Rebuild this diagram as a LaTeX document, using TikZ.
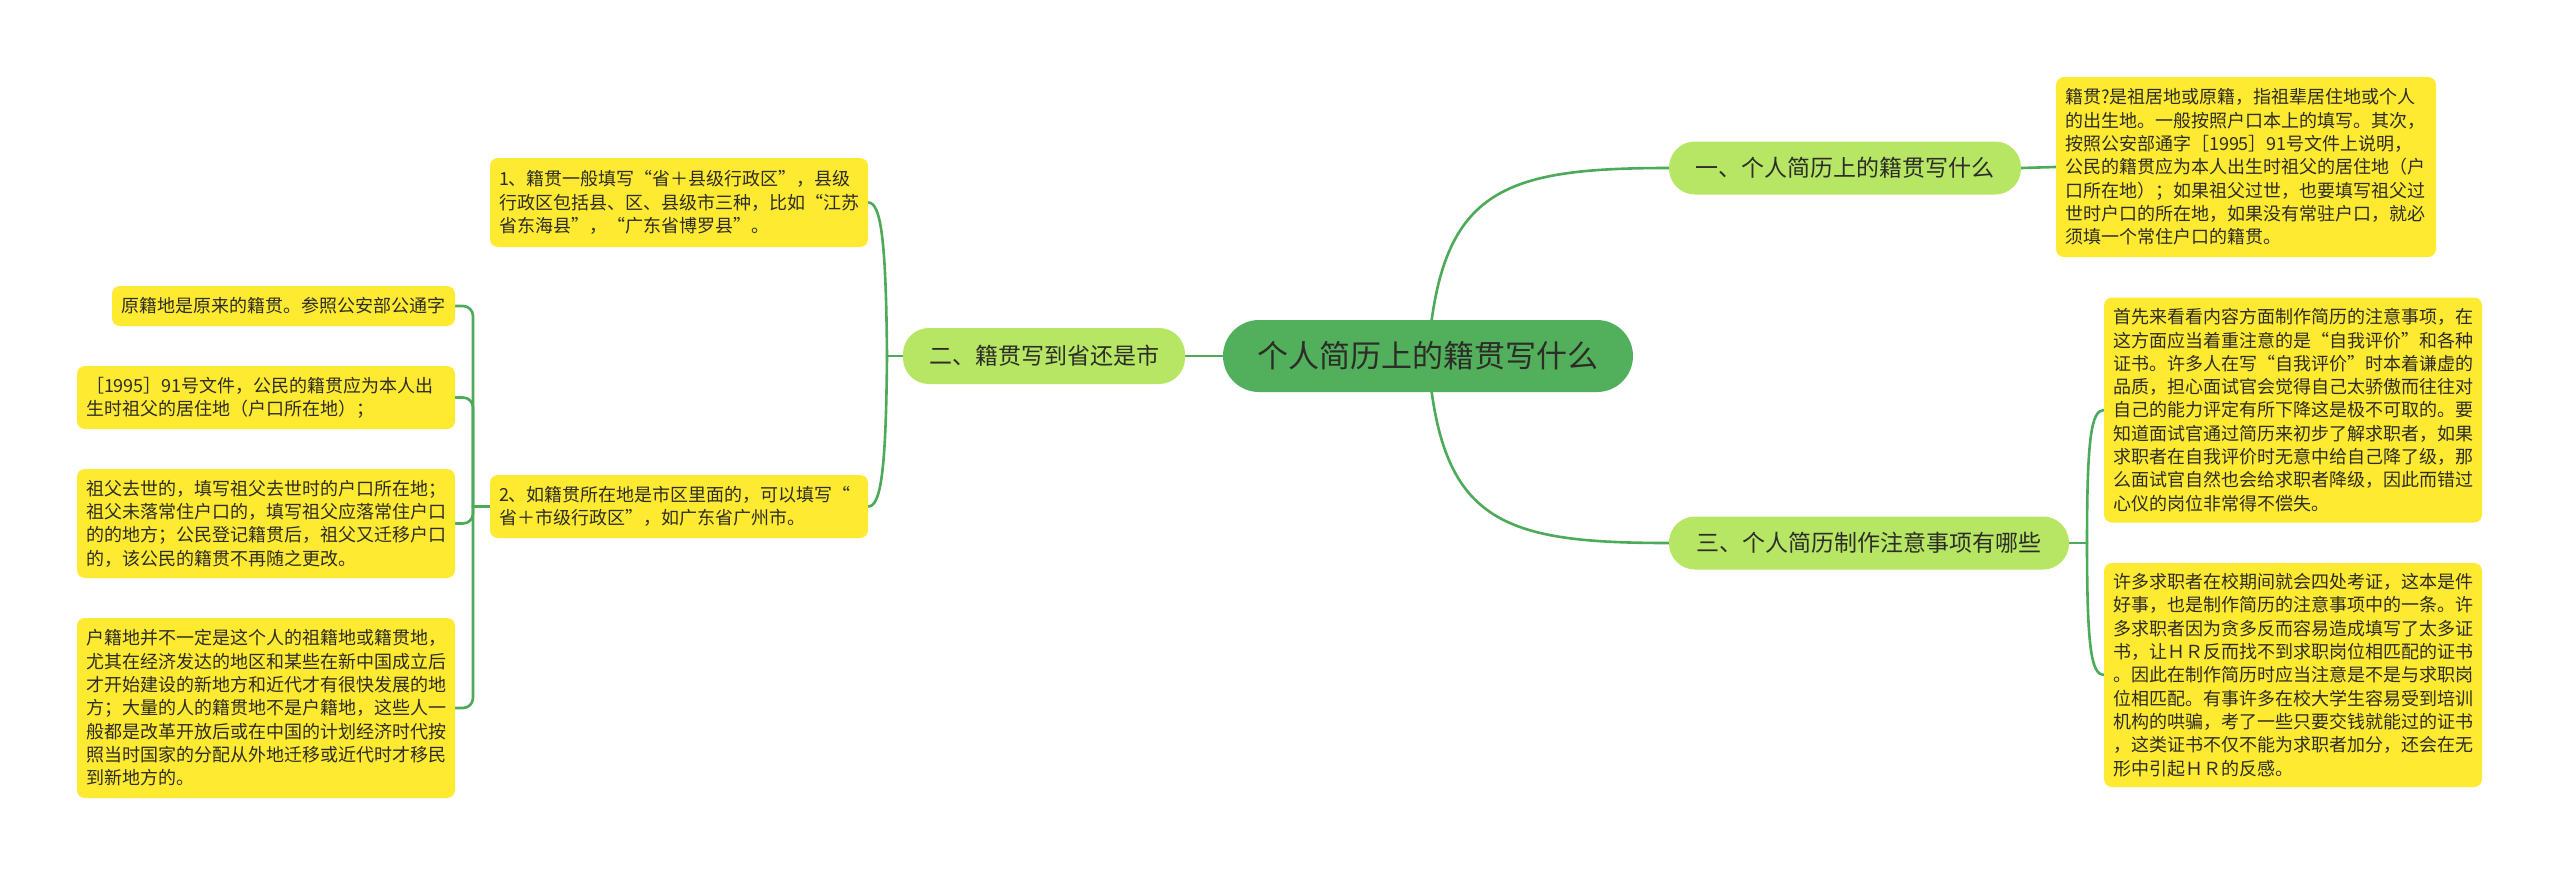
\documentclass[tikz,border=0pt]{standalone}
\usepackage{fontspec}
\newfontfamily\cjk{Noto Sans CJK SC}
\usetikzlibrary{backgrounds}
\definecolor{linec}{RGB}{76,170,88}
\definecolor{rootc}{RGB}{82,176,92}
\definecolor{branchc}{RGB}{182,230,100}
\definecolor{leafc}{RGB}{255,234,50}
\definecolor{textc}{RGB}{45,45,40}
\tikzset{
  rootbox/.style={fill=rootc, rounded corners=36pt, minimum width=410pt, minimum height=72pt, inner sep=0pt,
    font=\cjk\fontsize{31}{36}\selectfont, text=textc},
  branchbox/.style={fill=branchc, rounded corners=26pt, minimum height=53pt, inner sep=0pt,
    font=\cjk\fontsize{23}{28}\selectfont, text=textc},
  leafbox/.style={fill=leafc, rounded corners=8pt, inner xsep=9pt, inner ysep=3pt, align=left,
    font=\cjk\fontsize{18}{23.3}\selectfont, text=textc},
  conn/.style={draw=linec, line width=2.6pt, line cap=round}
}
\begin{document}
\begin{tikzpicture}[x=1pt,y=-1pt]
\useasboundingbox (0,0) rectangle (2560,876);

% root and branches
\node[rootbox] (c) at (1428,356) {个人简历上的籍贯写什么};
\node[branchbox, minimum width=352pt] (b1) at (1845,168) {一、个人简历上的籍贯写什么};
\node[branchbox, minimum width=282pt, minimum height=56pt] (b2) at (1044,356) {二、籍贯写到省还是市};
\node[branchbox, minimum width=400pt] (b3) at (1869,543) {三、个人简历制作注意事项有哪些};

% right leaves
\node[leafbox, text width=362pt, minimum height=180pt] (r1) at (2246,167) {籍贯?是祖居地或原籍，指祖辈居住地或个人\\的出生地。一般按照户口本上的填写。其次，\\按照公安部通字［1995］91号文件上说明，\\公民的籍贯应为本人出生时祖父的居住地（户\\口所在地）；如果祖父过世，也要填写祖父过\\世时户口的所在地，如果没有常驻户口，就必\\须填一个常住户口的籍贯。};
\node[leafbox, text width=360pt, minimum height=225pt] (r2) at (2293,410) {首先来看看内容方面制作简历的注意事项，在\\这方面应当着重注意的是“自我评价”和各种\\证书。许多人在写“自我评价”时本着谦虚的\\品质，担心面试官会觉得自己太骄傲而往往对\\自己的能力评定有所下降这是极不可取的。要\\知道面试官通过简历来初步了解求职者，如果\\求职者在自我评价时无意中给自己降了级，那\\么面试官自然也会给求职者降级，因此而错过\\心仪的岗位非常得不偿失。};
\node[leafbox, text width=360pt, minimum height=224pt] (r3) at (2293,675) {许多求职者在校期间就会四处考证，这本是件\\好事，也是制作简历的注意事项中的一条。许\\多求职者因为贪多反而容易造成填写了太多证\\书，让ＨＲ反而找不到求职岗位相匹配的证书\\。因此在制作简历时应当注意是不是与求职岗\\位相匹配。有事许多在校大学生容易受到培训\\机构的哄骗，考了一些只要交钱就能过的证书\\，这类证书不仅不能为求职者加分，还会在无\\形中引起ＨＲ的反感。};

% left leaves of branch 2
\node[leafbox, text width=360pt, minimum height=89pt] (l1) at (679,202.5) {1、籍贯一般填写“省＋县级行政区”，县级\\行政区包括县、区、县级市三种，比如“江苏\\省东海县”，“广东省博罗县”。};
\node[leafbox, text width=360pt, minimum height=63pt] (l2) at (679,506.5) {2、如籍贯所在地是市区里面的，可以填写“\\省＋市级行政区”，如广东省广州市。};

% far-left leaves
\node[leafbox, text width=325pt, minimum height=40pt] (f1) at (283.5,306) {原籍地是原来的籍贯。参照公安部公通字};
\node[leafbox, text width=360pt, minimum height=63pt] (f2) at (266,397.5) {［1995］91号文件，公民的籍贯应为本人出\\生时祖父的居住地（户口所在地）；};
\node[leafbox, text width=360pt, minimum height=109pt] (f3) at (266,523.5) {祖父去世的，填写祖父去世时的户口所在地；\\祖父未落常住户口的，填写祖父应落常住户口\\的的地方；公民登记籍贯后，祖父又迁移户口\\的，该公民的籍贯不再随之更改。};
\node[leafbox, text width=360pt, minimum height=180pt] (f4) at (266,708) {户籍地并不一定是这个人的祖籍地或籍贯地，\\尤其在经济发达的地区和某些在新中国成立后\\才开始建设的新地方和近代才有很快发展的地\\方；大量的人的籍贯地不是户籍地，这些人一\\般都是改革开放后或在中国的计划经济时代按\\照当时国家的分配从外地迁移或近代时才移民\\到新地方的。};

\coordinate (j2) at (887,356);
\coordinate (k2) at (473,506.5);
\coordinate (j3) at (2087,543);

\begin{pgfonlayer}{background}
\fill[white] (0,0) rectangle (2560,876);
% root to branches
\draw[conn] (c.center) .. controls (1440,190) and (1500,168) .. (b1.west);
\draw[conn] (c.center) .. controls (1440,522) and (1500,543) .. (b3.west);
\draw[conn] (c.west) -- (b2.east);
% branch 1
\draw[conn] (b1.east) -- (r1.west);
% branch 3
\draw[conn] (b3.east) -- (j3);
\draw[conn] (j3) .. controls (2087,440) and (2091,410) .. (r2.west);
\draw[conn] (j3) .. controls (2087,645) and (2091,675) .. (r3.west);
% branch 2
\draw[conn] (b2.west) -- (j2);
\draw[conn] (j2) .. controls (886,240) and (881,202.5) .. (l1.east);
\draw[conn] (j2) .. controls (886,470) and (881,506.5) .. (l2.east);
% l2 to far-left leaves
\draw[conn] (l2.west) -- (k2);
\draw[conn, rounded corners=10pt] (f1.east) -| (k2);
\draw[conn, rounded corners=10pt] (f2.east) -| (k2);
\draw[conn, rounded corners=10pt] (f3.east) -| (k2);
\draw[conn, rounded corners=10pt] (f4.east) -| (k2);
\end{pgfonlayer}
\end{tikzpicture}
\end{document}
